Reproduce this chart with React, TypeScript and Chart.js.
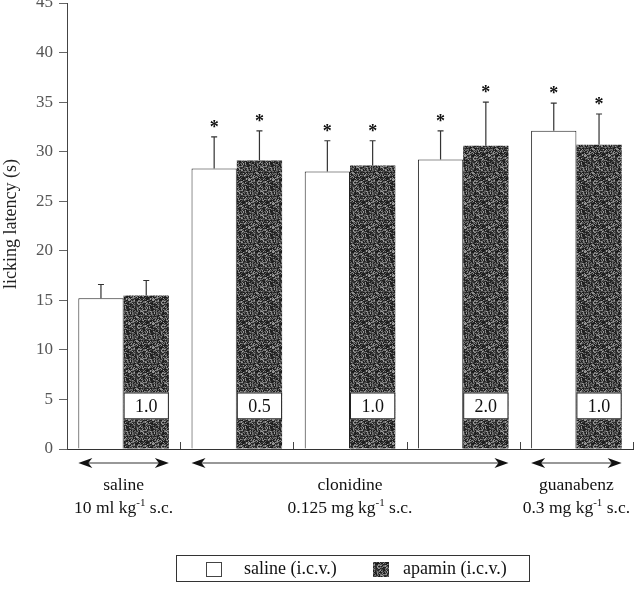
import React, { useEffect, useRef } from "react";
import { Chart, registerables } from "chart.js";

Chart.register(...registerables);

// ---- data ----
const categories = ["saline 1.0", "clonidine 0.5", "clonidine 1.0", "clonidine 2.0", "guanabenz 1.0"];
const salineIcv = [15.2, 28.3, 28.0, 29.2, 32.1];
const salineIcvErr = [1.4, 3.2, 3.1, 2.9, 2.8];
const apaminIcv = [15.5, 29.1, 28.6, 30.6, 30.7];
const apaminIcvErr = [1.5, 3.0, 2.5, 4.4, 3.1];
const salineSig = [false, true, true, true, true];
const apaminSig = [false, true, true, true, true];
const doseLabels = ["1.0", "0.5", "1.0", "2.0", "1.0"];
const groupNames = ["saline", "clonidine", "guanabenz"];
const groupDoses = ["10 ml kg", "0.125 mg kg", "0.3 mg kg"];
const groupFirst = [0, 1, 4];
const groupLast = [0, 3, 4];
const yTicks = { min: 0, max: 45, step: 5 };
const legendLabels = ["saline (i.c.v.)", "apamin (i.c.v.)"];
const yTitle = "licking latency (s)";

const SERIF = '"Liberation Serif", "DejaVu Serif", serif';

// deterministic stipple texture (styling only)
function texel(x: number, y: number): number {
  let h = Math.imul(x + 1, 374761393) ^ Math.imul(y + 7, 668265263);
  h = Math.imul(h ^ (h >>> 13), 1274126177);
  h = h ^ (h >>> 16);
  return ((h >>> 0) % 1000) / 1000;
}

function makePattern(ctx: CanvasRenderingContext2D): CanvasPattern | string {
  const n = 24;
  const c = document.createElement("canvas");
  c.width = n;
  c.height = n;
  const g = c.getContext("2d");
  if (!g) return "#4d4d4d";
  for (let y = 0; y < n; y++) {
    for (let x = 0; x < n; x++) {
      const t = texel(x, y);
      const v = Math.round(25 + t * t * 140);
      g.fillStyle = `rgb(${v},${v},${v})`;
      g.fillRect(x, y, 1, 1);
    }
  }
  return ctx.createPattern(c, "repeat") || "#4d4d4d";
}

function drawSupText(
  ctx: CanvasRenderingContext2D,
  base: string,
  sup: string,
  rest: string,
  cx: number,
  y: number,
  size: number
) {
  const bigFont = `${size}px ${SERIF}`;
  const smallFont = `${Math.round(size * 0.62)}px ${SERIF}`;
  ctx.font = bigFont;
  const w1 = ctx.measureText(base).width;
  const w3 = ctx.measureText(rest).width;
  ctx.font = smallFont;
  const w2 = ctx.measureText(sup).width;
  const total = w1 + w2 + w3;
  let x = cx - total / 2;
  ctx.textAlign = "left";
  ctx.textBaseline = "alphabetic";
  ctx.font = bigFont;
  ctx.fillText(base, x, y);
  x += w1;
  ctx.font = smallFont;
  ctx.fillText(sup, x, y - size * 0.42);
  x += w2;
  ctx.font = bigFont;
  ctx.fillText(rest, x, y);
}

function drawArrow(ctx: CanvasRenderingContext2D, x1: number, x2: number, y: number) {
  ctx.save();
  ctx.strokeStyle = "#333";
  ctx.lineWidth = 1.2;
  ctx.beginPath();
  ctx.moveTo(x1 + 6, y);
  ctx.lineTo(x2 - 6, y);
  ctx.stroke();
  ctx.fillStyle = "#111";
  ctx.beginPath();
  ctx.moveTo(x1, y);
  ctx.lineTo(x1 + 14, y - 5);
  ctx.lineTo(x1 + 10, y);
  ctx.lineTo(x1 + 14, y + 5);
  ctx.closePath();
  ctx.fill();
  ctx.beginPath();
  ctx.moveTo(x2, y);
  ctx.lineTo(x2 - 14, y - 5);
  ctx.lineTo(x2 - 10, y);
  ctx.lineTo(x2 - 14, y + 5);
  ctx.closePath();
  ctx.fill();
  ctx.restore();
}

export default function App() {
  const ref = useRef<HTMLCanvasElement | null>(null);

  useEffect(() => {
    document.body.style.margin = "0";
    const canvas = ref.current;
    if (!canvas) return;
    const ctx = canvas.getContext("2d");
    if (!ctx) return;
    const pattern = makePattern(ctx);

    const overlay = {
      id: "overlay",
      afterDatasetsDraw(chart: any) {
        const c: CanvasRenderingContext2D = chart.ctx;
        const ys = chart.scales.y;
        const area = chart.chartArea;
        const vals = [salineIcv, apaminIcv];
        const errs = [salineIcvErr, apaminIcvErr];
        const sigs = [salineSig, apaminSig];
        c.save();
        // error bars + asterisks
        for (let d = 0; d < 2; d++) {
          const meta = chart.getDatasetMeta(d);
          meta.data.forEach((bar: any, i: number) => {
            const x = bar.x;
            const top = ys.getPixelForValue(vals[d][i]);
            const et = ys.getPixelForValue(vals[d][i] + errs[d][i]);
            c.strokeStyle = "#333";
            c.lineWidth = 1.2;
            c.beginPath();
            c.moveTo(x, top);
            c.lineTo(x, et);
            c.moveTo(x - 3, et);
            c.lineTo(x + 3, et);
            c.stroke();
            if (sigs[d][i]) {
              c.fillStyle = "#111";
              c.font = `bold 18px ${SERIF}`;
              c.textAlign = "center";
              c.textBaseline = "alphabetic";
              c.fillText("*", x, et - 4);
            }
          });
        }
        // dose boxes on apamin bars
        const meta1 = chart.getDatasetMeta(1);
        meta1.data.forEach((bar: any, i: number) => {
          const w = bar.width;
          const x0 = bar.x - w / 2;
          const yTop = ys.getPixelForValue(5.7);
          const yBot = ys.getPixelForValue(3.0);
          c.fillStyle = "#fff";
          c.fillRect(x0, yTop, w, yBot - yTop);
          c.strokeStyle = "#222";
          c.lineWidth = 1;
          c.strokeRect(x0 + 0.5, yTop + 0.5, w - 1, yBot - yTop - 1);
          c.fillStyle = "#111";
          c.font = `18px ${SERIF}`;
          c.textAlign = "center";
          c.textBaseline = "middle";
          c.fillText(doseLabels[i], bar.x, (yTop + yBot) / 2 + 1);
        });
        // category boundary ticks on the baseline
        const xs = chart.scales.x;
        const base = area.bottom;
        c.strokeStyle = "#444";
        c.lineWidth = 1;
        for (let i = 0; i < categories.length; i++) {
          const bx = i < categories.length - 1
            ? (xs.getPixelForValue(i) + xs.getPixelForValue(i + 1)) / 2
            : area.right;
          c.beginPath();
          c.moveTo(Math.round(bx) + 0.5, base);
          c.lineTo(Math.round(bx) + 0.5, base - 7);
          c.stroke();
        }
        // group arrows and labels
        const m0 = chart.getDatasetMeta(0);
        for (let gI = 0; gI < groupNames.length; gI++) {
          const left = m0.data[groupFirst[gI]];
          const right = meta1.data[groupLast[gI]];
          const x1 = left.x - left.width / 2;
          const x2 = right.x + right.width / 2;
          drawArrow(c, x1, x2, base + 14);
          const cx = (x1 + x2) / 2;
          c.fillStyle = "#111";
          c.font = `17.5px ${SERIF}`;
          c.textAlign = "center";
          c.textBaseline = "alphabetic";
          c.fillText(groupNames[gI], cx, base + 41);
          drawSupText(c, groupDoses[gI] + "", "-1", " s.c.", cx, base + 64, 17.5);
        }
        // y title
        c.save();
        c.translate(11, 224);
        c.rotate(-Math.PI / 2);
        c.fillStyle = "#222";
        c.font = `18px ${SERIF}`;
        c.textAlign = "center";
        c.textBaseline = "middle";
        c.fillText(yTitle, 0, 0);
        c.restore();
        // legend
        c.strokeStyle = "#333";
        c.lineWidth = 1;
        c.strokeRect(176.5, 555.5, 353, 26);
        c.fillStyle = "#fff";
        c.fillRect(206, 562, 16, 15);
        c.strokeStyle = "#444";
        c.strokeRect(206.5, 562.5, 15, 14);
        c.fillStyle = pattern as any;
        c.fillRect(373, 562, 16, 15);
        c.fillStyle = "#111";
        c.font = `18px ${SERIF}`;
        c.textAlign = "left";
        c.textBaseline = "middle";
        c.fillText(legendLabels[0], 244, 569);
        c.fillText(legendLabels[1], 403, 569);
        c.restore();
      },
    };

    const chart = new Chart(ctx, {
      type: "bar",
      data: {
        labels: categories,
        datasets: [
          {
            label: legendLabels[0],
            data: salineIcv,
            backgroundColor: "#ffffff",
            borderColor: "#222",
            borderWidth: 1,
            categoryPercentage: 0.8,
            barPercentage: 1.0,
          },
          {
            label: legendLabels[1],
            data: apaminIcv,
            backgroundColor: pattern as any,
            borderColor: "#222",
            borderWidth: 0,
            categoryPercentage: 0.8,
            barPercentage: 1.0,
          },
        ],
      },
      options: {
        responsive: false,
        animation: false,
        devicePixelRatio: 1,
        layout: { padding: { top: 3, right: 7, left: 0, bottom: 0 } },
        plugins: { legend: { display: false }, tooltip: { enabled: false } },
        scales: {
          x: {
            grid: { display: false },
            border: { display: true, color: "#333", width: 1 },
            ticks: { display: false },
            afterFit(scale: any) {
              scale.height = 141;
              scale.paddingLeft = 0;
              scale.paddingRight = 0;
            },
          },
          y: {
            min: yTicks.min,
            max: yTicks.max,
            ticks: {
              stepSize: yTicks.step,
              font: { family: SERIF, size: 17 },
              color: "#555",
              padding: 6,
            },
            grid: { drawOnChartArea: false, drawTicks: true, tickLength: 8, color: "#666" },
            border: { display: true, color: "#444", width: 1 },
            afterFit(scale: any) {
              scale.width = 67;
              scale.paddingTop = 0;
              scale.paddingBottom = 0;
            },
          },
        },
      },
      plugins: [overlay],
    });
    return () => chart.destroy();
  }, []);

  return (
    <div style={{ width: 640, height: 590 }}>
      <canvas ref={ref} width={640} height={590} style={{ display: "block" }} />
    </div>
  );
}
